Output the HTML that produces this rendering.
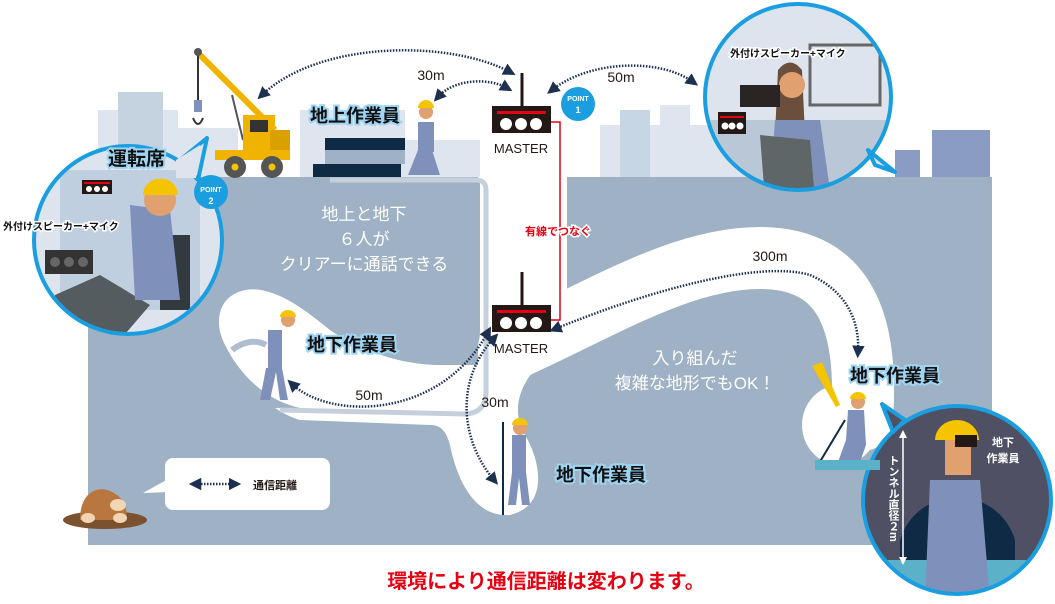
<!DOCTYPE html>
<html><head><meta charset="utf-8"><style>
html,body{margin:0;padding:0;background:#fff;}
body{width:1055px;height:599px;overflow:hidden;}
svg text{font-family:"Liberation Sans","Noto Sans CJK JP",sans-serif;}
</style></head><body>
<svg width="1055" height="599" viewBox="0 0 1055 599" xmlns="http://www.w3.org/2000/svg">
<defs>
<marker id="ah" viewBox="0 0 10 10" refX="5" refY="5" markerWidth="5" markerHeight="5" orient="auto-start-reverse"><path d="M0,0 L10,5 L0,10 z" fill="#1e3050"/></marker>
<clipPath id="c1"><circle cx="128" cy="240" r="94"/></clipPath>
<clipPath id="c2"><circle cx="798" cy="97" r="93"/></clipPath>
<clipPath id="c3"><circle cx="957" cy="500" r="94"/></clipPath>
</defs>
<!-- sky buildings -->
<g fill="#dfe5ee">
<rect x="98" y="110" width="80" height="70"/><rect x="118" y="92" width="45" height="88" fill="#c5d3e0"/>
<rect x="178" y="128" width="60" height="52"/><rect x="300" y="110" width="105" height="70"/>
<rect x="405" y="140" width="75" height="40"/>
<rect x="600" y="125" width="160" height="55"/><rect x="620" y="110" width="30" height="70" fill="#c7d6e4"/>
<rect x="660" y="105" width="30" height="75"/>
</g>
<rect x="932" y="130" width="58" height="48" fill="#8a9cc4"/>
<rect x="895" y="150" width="25" height="28" fill="#8a9cc4"/>
<!-- ground -->
<rect x="88" y="177" width="904" height="368" fill="#9fb1c4"/>
<!-- shaft & master area -->
<path d="M478,177 L567,177 L567,300 L560,360 L520,380 L478,420 Z" fill="#fff"/>
<!-- big tunnel -->
<path d="M510,350 C600,310 680,258 760,258 C850,258 868,330 862,420" fill="none" stroke="#fff" stroke-width="62" stroke-linecap="round"/>
<!-- right pocket -->
<ellipse cx="840" cy="425" rx="38" ry="40" fill="#fff"/>
<!-- lower 30m pocket -->
<path d="M478,360 L545,360 C520,380 510,410 525,435 C540,460 550,505 510,515 C470,518 455,470 450,445 C446,430 440,425 430,425 L478,400 Z" fill="#fff"/>
<!-- 50m pocket + band -->
<path d="M225,345 C212,320 220,295 245,290 C270,285 300,305 330,330 C360,350 400,365 440,365 L485,365 L485,425 L430,425 L300,420 C265,410 240,375 225,345 Z" fill="#fff"/>
<!-- left block -->
<path d="M88,177 L472,177 Q480,177 480,185 L480,330 C480,360 460,365 440,365 C400,365 360,350 330,330 C300,305 270,285 245,290 C220,295 212,320 225,345 C240,375 265,400 300,408 L88,408 Z" fill="#9fb1c4"/>
<!-- thin light tunnel line -->
<path d="M330,180 L476,180 Q486,180 486,190 L486,392 Q486,413 465,414 L280,410" fill="none" stroke="#c5d0dc" stroke-width="5"/>
<!-- surface steps -->
<rect x="325" y="138" width="80" height="12" fill="#0e2a44"/>
<rect x="325" y="150" width="80" height="14" fill="#9fb1c4"/>
<rect x="313" y="164" width="88" height="13" fill="#0e2a44"/>
<!-- crane -->
<g>
<line x1="198" y1="53" x2="275" y2="130" stroke="#f0b400" stroke-width="6"/>
<line x1="198" y1="53" x2="198" y2="100" stroke="#333" stroke-width="2"/>
<circle cx="198" cy="52" r="4" fill="#555"/>
<rect x="194" y="100" width="8" height="12" fill="#7f91bb"/>
<path d="M193,118 q5,12 10,0" stroke="#333" stroke-width="2" fill="none"/>
<line x1="232" y1="95" x2="243" y2="140" stroke="#555" stroke-width="2"/>
<rect x="243" y="115" width="32" height="37" fill="#f0b400"/>
<rect x="250" y="120" width="18" height="12" fill="#333"/>
<rect x="270" y="130" width="20" height="22" fill="#d9a000"/>
<rect x="215" y="150" width="75" height="10" fill="#f0b400"/>
<circle cx="235" cy="167" r="11" fill="#555"/><circle cx="235" cy="167" r="3.5" fill="#f5c400"/>
<circle cx="272" cy="167" r="11" fill="#555"/><circle cx="272" cy="167" r="3.5" fill="#f5c400"/>
</g>
<!-- worker top -->
<g><circle cx="426" cy="112" r="7" fill="#e0a070"/><path d="M418,108 a8,8 0 0 1 16,0z" fill="#f5c400"/>
<rect x="418" y="122" width="16" height="30" fill="#7f91bb"/><path d="M418,150 L408,175 L440,175 L432,150z" fill="#7f91bb"/></g>
<!-- left circle -->
<circle cx="128" cy="240" r="94" fill="#dde4ee"/>
<g clip-path="url(#c1)">
<rect x="60" y="170" width="140" height="140" fill="#c0cfdf"/>
<rect x="160" y="235" width="30" height="75" fill="#333a3f"/>
<path d="M55,295 L100,275 L150,305 L120,340 L55,340z" fill="#555c60"/>
<path d="M130,205 L170,210 L180,300 L135,300z" fill="#7f91bb"/>
<circle cx="160" cy="200" r="16" fill="#e0a070"/>
<path d="M143,195 a17,16 0 0 1 35,0z" fill="#f5c400"/>
<rect x="45" y="250" width="48" height="24" fill="#333"/>
<circle cx="55" cy="262" r="5" fill="#666"/><circle cx="69" cy="262" r="5" fill="#666"/><circle cx="83" cy="262" r="5" fill="#666"/>
</g>
<circle cx="128" cy="240" r="94" fill="none" stroke="#1a9ee0" stroke-width="4"/>
<path d="M180,160 L207,138 L198,180z" fill="#dde4ee" stroke="#1a9ee0" stroke-width="4" stroke-linejoin="round"/>
<path d="M176,160 L200,145 L196,178 L176,178z" fill="#dde4ee"/>
<rect x="82" y="180" width="30" height="14" fill="#231815"/><rect x="84" y="182" width="26" height="2" fill="#e60012"/>
<circle cx="89" cy="189" r="3" fill="#fff"/><circle cx="97" cy="189" r="3" fill="#fff"/><circle cx="105" cy="189" r="3" fill="#fff"/>
<text x="108" y="165" font-size="19" font-weight="bold" fill="#111" stroke="#9fd4f2" stroke-width="4" paint-order="stroke">運転席</text>
<text x="3" y="230" font-size="10" font-weight="bold" fill="#111" stroke="#fff" stroke-width="3" paint-order="stroke">外付けスピーカー+マイク</text>
<circle cx="211" cy="192" r="17" fill="#1a9ee0"/>
<text x="211" y="192" font-size="7" fill="#fff" text-anchor="middle" font-weight="bold">POINT</text>
<text x="211" y="204" font-size="9" fill="#fff" text-anchor="middle" font-weight="bold">2</text>
<!-- top right circle -->
<circle cx="798" cy="97" r="93" fill="#dde4ee"/>
<g clip-path="url(#c2)">
<rect x="700" y="120" width="200" height="80" fill="#b9c7d6"/>
<rect x="810" y="45" width="70" height="60" fill="none" stroke="#666" stroke-width="3"/>
<path d="M778,70 q12,-15 24,0 L805,135 L775,135z" fill="#6b4e3c"/>
<circle cx="792" cy="85" r="13" fill="#e0a070"/>
<path d="M775,120 L820,120 L830,190 L770,190z" fill="#7f91bb"/>
<path d="M760,135 L810,140 L815,200 L765,200z" fill="#5e6668"/>
<rect x="740" y="85" width="40" height="22" fill="#2a2424"/>
<rect x="718" y="112" width="28" height="22" fill="#231815"/><rect x="720" y="116" width="24" height="2" fill="#e60012"/>
<circle cx="725" cy="126" r="3.5" fill="#fff"/><circle cx="732" cy="126" r="3.5" fill="#fff"/><circle cx="740" cy="126" r="3.5" fill="#fff"/>
</g>
<circle cx="798" cy="97" r="93" fill="none" stroke="#1a9ee0" stroke-width="4"/>
<path d="M868,150 L895,172 L875,165z" fill="#dde4ee" stroke="#1a9ee0" stroke-width="4" stroke-linejoin="round"/>
<text x="730" y="57" font-size="10" font-weight="bold" fill="#111" stroke="#fff" stroke-width="3" paint-order="stroke">外付けスピーカー+マイク</text>
<circle cx="578" cy="104" r="17" fill="#1a9ee0"/>
<text x="578" y="101" font-size="7" fill="#fff" text-anchor="middle" font-weight="bold">POINT</text>
<text x="578" y="113" font-size="9" fill="#fff" text-anchor="middle" font-weight="bold">1</text>
<!-- bottom right circle -->
<circle cx="957" cy="500" r="94" fill="#4f5063"/>
<g clip-path="url(#c3)">
<path d="M900,540 a60,60 0 0 1 115,0 L1015,560 L900,560z" fill="#0e2a44"/>
<path d="M860,560 L1060,560 L1060,600 L860,600z" fill="#5bb1c8"/>
<path d="M930,480 L980,480 L990,600 L925,600z" fill="#7f91bb"/>
<rect x="945" y="430" width="26" height="45" fill="#e0a070"/>
<path d="M935,440 a22,20 0 0 1 44,0z" fill="#f5c400"/>
<rect x="955" y="435" width="22" height="12" fill="#231815"/>
</g>
<circle cx="957" cy="500" r="94" fill="none" stroke="#1a9ee0" stroke-width="4"/>
<path d="M905,420 L882,404 L893,432z" fill="#4f5063" stroke="#1a9ee0" stroke-width="4" stroke-linejoin="round"/>
<line x1="903" y1="432" x2="903" y2="563" stroke="#fff" stroke-width="1.5"/>
<path d="M899,438 L903,430 L907,438z M899,557 L903,565 L907,557z" fill="#fff"/>
<text font-size="11" fill="#fff" font-weight="bold" x="893" y="455" style="writing-mode:vertical-rl">トンネル直径２m</text>
<text x="1003" y="446" font-size="11" fill="#fff" font-weight="bold" text-anchor="middle">地下</text>
<text x="1003" y="462" font-size="11" fill="#fff" font-weight="bold" text-anchor="middle">作業員</text>
<!-- MASTER 1 -->
<line x1="522" y1="73" x2="522" y2="106" stroke="#231815" stroke-width="3"/>
<rect x="492" y="106" width="59" height="27" fill="#231815"/>
<rect x="497" y="111" width="49" height="3" fill="#e60012"/>
<circle cx="506" cy="124" r="6" fill="#fff"/><circle cx="521" cy="124" r="6" fill="#fff"/><circle cx="536" cy="124" r="6" fill="#fff"/>
<text x="521" y="153" font-size="13" fill="#231815" text-anchor="middle">MASTER</text>
<!-- MASTER 2 -->
<line x1="522" y1="272" x2="522" y2="305" stroke="#231815" stroke-width="3"/>
<rect x="492" y="305" width="59" height="27" fill="#231815"/>
<rect x="497" y="310" width="49" height="3" fill="#e60012"/>
<circle cx="506" cy="323" r="6" fill="#fff"/><circle cx="521" cy="323" r="6" fill="#fff"/><circle cx="536" cy="323" r="6" fill="#fff"/>
<text x="521" y="353" font-size="13" fill="#231815" text-anchor="middle">MASTER</text>
<polyline points="551,122 560,122 560,320 551,320" fill="none" stroke="#e60012" stroke-width="1.5"/>
<text x="558" y="235" font-size="11" fill="#e60012" font-weight="bold" text-anchor="middle" stroke="#fff" stroke-width="3" paint-order="stroke">有線でつなぐ</text>
<!-- central texts -->
<g font-size="17" fill="#fff" text-anchor="middle">
<text x="364" y="220">地上と地下</text>
<text x="364" y="245">６人が</text>
<text x="364" y="270">クリアーに通話できる</text>
<text x="695" y="364">入り組んだ</text>
<text x="695" y="389">複雑な地形でもOK！</text>
</g>
<!-- underground workers -->
<g fill="#7f91bb">
<rect x="268" y="330" width="14" height="40"/><path d="M266,368 L260,400 L270,400 L276,372 L280,400 L288,400 L282,368z"/>
<rect x="512" y="435" width="14" height="40"/><path d="M512,472 L508,505 L516,505 L519,478 L522,505 L530,505 L526,472z"/>
<path d="M848,410 L864,410 L866,445 L860,462 L838,462 L846,440z"/>
</g>
<circle cx="288" cy="320" r="7" fill="#e0a070"/><path d="M280,317 a8,7 0 0 1 16,0z" fill="#f5c400"/>
<circle cx="520" cy="428" r="7" fill="#e0a070"/><path d="M512,425 a8,7 0 0 1 16,0z" fill="#f5c400"/>
<circle cx="858" cy="402" r="7" fill="#e0a070"/><path d="M850,399 a8,7 0 0 1 16,0z" fill="#f5c400"/>
<line x1="503" y1="422" x2="503" y2="515" stroke="#0e2a44" stroke-width="2"/>
<line x1="818" y1="465" x2="845" y2="420" stroke="#0e2a44" stroke-width="2"/>
<path d="M812,366 L822,362 L840,405 L836,407z" fill="#f5c400"/>
<path d="M815,460 L880,460 L880,470 L815,470z" fill="#5bb1c8"/>
<path d="M232,350 C245,340 258,340 266,345" stroke="#b0bdd0" stroke-width="6" fill="none"/>
<!-- labels -->
<g font-size="18" font-weight="bold" fill="#111" stroke="#9fd4f2" stroke-width="4" paint-order="stroke">
<text x="310" y="122">地上作業員</text>
<text x="307" y="351">地下作業員</text>
<text x="556" y="481">地下作業員</text>
<text x="850" y="382">地下作業員</text>
</g>
<!-- legend -->
<rect x="165" y="458" width="165" height="52" rx="8" fill="#fff"/>
<path d="M170,478 L143,493 L170,492z" fill="#fff"/>
<text x="253" y="489" font-size="11" font-weight="bold" fill="#231815">通信距離</text>
<!-- dotted arrows -->
<g fill="none" stroke="#1e3050" stroke-width="2.5" stroke-dasharray="1.5 1.5" marker-start="url(#ah)" marker-end="url(#ah)">
<path d="M262,95 C320,40 450,40 510,72"/>
<path d="M438,97 C455,78 490,78 507,88"/>
<path d="M552,90 C590,60 660,58 693,82"/>
<path d="M292,384 C330,420 440,420 488,332"/>
<path d="M494,338 C455,380 460,440 494,480"/>
<path d="M555,329 C650,290 760,260 810,275 C845,290 860,320 858,352"/>
<path d="M195,484 L235,484"/>
</g>
<text x="431" y="80" font-size="14" fill="#231815" text-anchor="middle">30m</text>
<text x="621" y="82" font-size="14" fill="#231815" text-anchor="middle">50m</text>
<text x="369" y="400" font-size="14" fill="#231815" text-anchor="middle">50m</text>
<text x="495" y="407" font-size="14" fill="#231815" text-anchor="middle">30m</text>
<text x="770" y="261" font-size="14" fill="#231815" text-anchor="middle">300m</text>
<!-- mole -->
<ellipse cx="105" cy="520" rx="42" ry="9" fill="#7a5230"/>
<path d="M80,520 C80,490 100,485 112,492 C125,498 128,510 126,520z" fill="#b9763e"/>
<ellipse cx="118" cy="505" rx="8" ry="6" fill="#f2d6b4"/>
<ellipse cx="88" cy="518" rx="7" ry="5" fill="#f2d6b4"/><ellipse cx="120" cy="518" rx="7" ry="5" fill="#f2d6b4"/>
<!-- bottom text -->
<text x="546" y="588" font-size="20" font-weight="bold" fill="#e60012" text-anchor="middle">環境により通信距離は変わります。</text>
</svg>
</body></html>
